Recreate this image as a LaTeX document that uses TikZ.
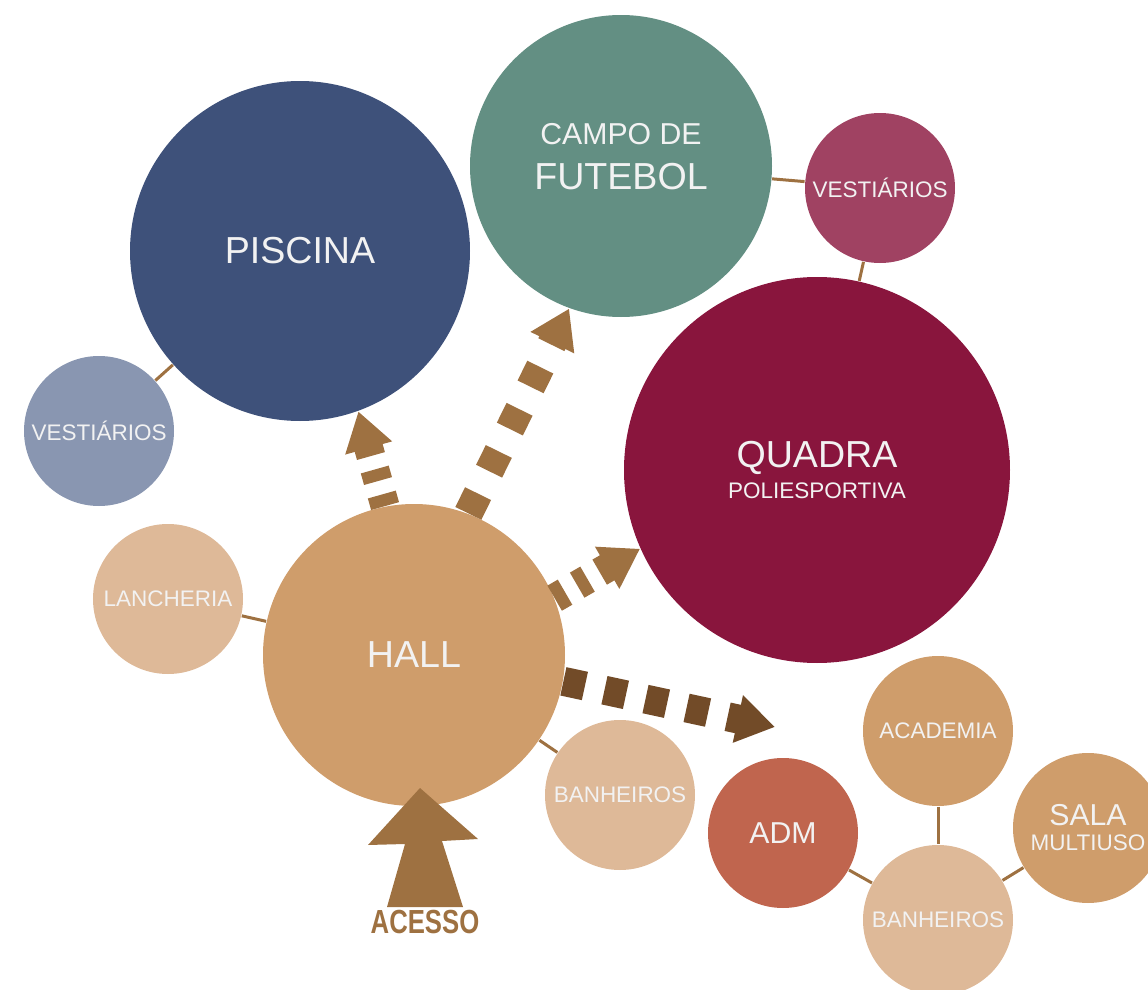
\documentclass[tikz,border=0pt]{standalone}
\usepackage{fontspec}
\setmainfont{Liberation Sans}
\usepackage{xcolor}
\usepackage{tikz}
\usetikzlibrary{positioning}
\usetikzlibrary{arrows.meta}
\usetikzlibrary{calc}
\definecolor{poolblue}{RGB}{62,81,122}
\definecolor{fieldgreen}{RGB}{99,143,131}
\definecolor{lockerrose}{RGB}{160,66,98}
\definecolor{courtwine}{RGB}{137,21,61}
\definecolor{lockerblue}{RGB}{137,150,177}
\definecolor{lightsand}{RGB}{222,185,152}
\definecolor{sand}{RGB}{207,157,107}
\definecolor{brick}{RGB}{192,101,78}
\definecolor{arrowbrown}{RGB}{158,113,65}
\definecolor{darkbrown}{RGB}{114,75,40}
\definecolor{textwhite}{RGB}{242,242,242}
\newcommand{\txtL}{\fontsize{10.7}{12.8}\selectfont}
\newcommand{\txtM}{\fontsize{8.6}{10.3}\selectfont}
\newcommand{\txtS}{\fontsize{6.4}{7.7}\selectfont}
\tikzset{bubble/.style={circle, inner sep=0pt, text=textwhite, align=center}}
\tikzset{small bubble/.style={bubble, minimum size=1.5cm, font=\txtS}}
\tikzset{link/.style={draw=arrowbrown, line width=0.03cm}}
\tikzset{flow/.style={draw=arrowbrown, line width=0.29cm, -{Triangle[length=0.38cm,width=0.46cm]}}}

\begin{document}
\begin{tikzpicture}
\useasboundingbox (0,0) rectangle (11.48,-9.90);
% big areas
\node[bubble, fill=poolblue, minimum size=3.40cm, font=\txtL] (piscina) at (3.00,-2.51) {PISCINA};
\node[bubble, fill=fieldgreen, minimum size=3.02cm, text depth=0.19cm] (campo) at (6.21,-1.66) {\txtM CAMPO DE\\[0.02cm]\txtL FUTEBOL};
\node[bubble, fill=courtwine, minimum size=3.86cm, font=\txtS] (quadra) at (8.17,-4.70) {\txtL QUADRA\\[0.03cm]\txtS POLIESPORTIVA};
\node[bubble, fill=sand, minimum size=3.02cm, font=\txtL] (hall) at (4.14,-6.55) {HALL};
% support rooms
\node[small bubble, fill=lockerrose] (vestR) at (8.80,-1.88) {VESTIÁRIOS};
\node[small bubble, fill=lockerblue] (vestL) at (0.99,-4.31) {VESTIÁRIOS};
\node[small bubble, fill=lightsand] (lancheria) at (1.68,-5.99) {LANCHERIA};
\node[small bubble, fill=lightsand] (banhA) at (6.20,-7.95) {BANHEIROS};
\node[small bubble, fill=brick, font=\txtM] (adm) at (7.83,-8.33) {ADM};
\node[small bubble, fill=sand] (academia) at (9.38,-7.31) {ACADEMIA};
\node[small bubble, fill=sand] (sala) at (10.88,-8.28) {\txtM SALA\\[-0.02cm]\txtS MULTIUSO};
\node[small bubble, fill=lightsand] (banhB) at (9.38,-9.20) {BANHEIROS};

\draw[link] (piscina) -- (vestL);
\draw[link] (campo) -- (vestR);
\draw[link] (vestR) -- (quadra);
\draw[link] (lancheria) -- (hall);
\draw[link] (hall) -- (banhA);
\draw[link] (adm) -- (banhB);
\draw[link] (academia) -- (banhB);
\draw[link] (sala) -- (banhB);

% flows out of the hall
\coordinate (admzone) at (7.75,-7.27);
\draw[flow, dash pattern=on 0.12cm off 0.14cm] (hall.101) -- (piscina.-70);
\draw[flow, dash pattern=on 0.22cm off 0.25cm] (hall.69) -- (campo.-110);
\draw[flow, dash pattern=on 0.12cm off 0.14cm] (hall.22) -- (quadra.204);
\draw[flow, draw=darkbrown, dash pattern=on 0.22cm off 0.20cm] (hall.-10) -- (admzone);

% entrance
\coordinate (tip) at (4.20,-7.88);
\fill[arrowbrown] (tip) -- (4.78,-8.39) -- (4.42,-8.41) -- (4.63,-9.07)
  -- (3.87,-9.07) -- (4.05,-8.44) -- (3.68,-8.45) -- cycle;
\node[text=arrowbrown, font=\fontsize{9.5}{11}\selectfont\bfseries, inner sep=0pt] (acesso) at (4.25,-9.22) {\scalebox{0.77}[1]{ACESSO}};
\end{tikzpicture}
\end{document}
